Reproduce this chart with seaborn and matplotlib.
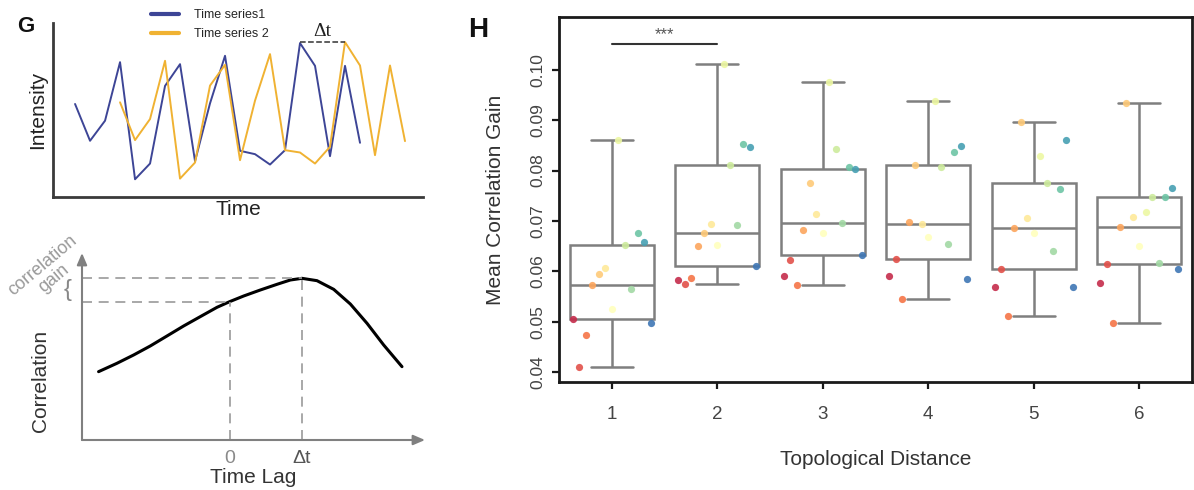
import numpy as np
import pandas as pd
import matplotlib
matplotlib.use("Agg")
import matplotlib.pyplot as plt
import seaborn as sns

# ---------------- Panel G (top): schematic time series ----------------
ts1_time = list(range(0, 20))
ts1_values = [27.8, 16.8, 22.8, 40.3, 5.3, 10.0, 33.2, 39.7, 10.7, 28.0,
              42.2, 13.8, 12.8, 9.7, 14.0, 46.0, 39.2, 12.2, 39.2, 16.2]
ts2_time = list(range(3, 23))
ts2_values = [28.3, 17.0, 23.3, 40.7, 5.5, 10.3, 33.3, 39.5, 11.0, 28.8,
              42.7, 14.0, 13.3, 10.0, 15.0, 46.3, 39.3, 12.5, 39.3, 16.7]
ts_labels = ["Time series1", "Time series 2"]

# ---------------- Panel G (bottom): cross-correlation schematic ----------------
lag_values = [-1.811, -1.558, -1.327, -1.097, -0.866, -0.636, -0.406, -0.175, 0.0,
              0.194, 0.424, 0.654, 0.839, 1.0, 1.207, 1.438, 1.668, 1.899, 2.129, 2.382]
corr_values = [2.05, 2.30, 2.55, 2.82, 3.12, 3.42, 3.70, 3.98, 4.15,
               4.32, 4.50, 4.67, 4.80, 4.85, 4.78, 4.52, 4.08, 3.50, 2.85, 2.20]
lag_ticklabels = ["0", "Δt"]

# ---------------- Panel H: mean correlation gain ----------------
distance_labels = ["1", "2", "3", "4", "5", "6"]
subject_labels = ["S%02d" % (i + 1) for i in range(13)]
gain_d1 = [0.0505, 0.0409, 0.0473, 0.0573, 0.0594, 0.0607, 0.0525, 0.0861, 0.0653, 0.0564, 0.0675, 0.0659, 0.0498]
gain_d2 = [0.0582, 0.0575, 0.0586, 0.0651, 0.0675, 0.0693, 0.0653, 0.1012, 0.0811, 0.0692, 0.0852, 0.0846, 0.0610]
gain_d3 = [0.0591, 0.0622, 0.0573, 0.0681, 0.0775, 0.0713, 0.0675, 0.0975, 0.0842, 0.0695, 0.0807, 0.0803, 0.0632]
gain_d4 = [0.0591, 0.0625, 0.0545, 0.0698, 0.0811, 0.0694, 0.0668, 0.0938, 0.0807, 0.0655, 0.0836, 0.0849, 0.0585]
gain_d5 = [0.0568, 0.0605, 0.0512, 0.0686, 0.0897, 0.0706, 0.0675, 0.0828, 0.0775, 0.0641, 0.0763, 0.0860, 0.0568]
gain_d6 = [0.0577, 0.0615, 0.0498, 0.0687, 0.0935, 0.0708, 0.0651, 0.0718, 0.0748, 0.0616, 0.0747, 0.0766, 0.0605]
y_ticks = [0.04, 0.05, 0.06, 0.07, 0.08, 0.09, 0.10]
sig_text = "***"

gains = [gain_d1, gain_d2, gain_d3, gain_d4, gain_d5, gain_d6]
df = pd.DataFrame({
    "distance": np.repeat(distance_labels, len(subject_labels)),
    "subject": np.tile(subject_labels, len(distance_labels)),
    "gain": np.concatenate(gains),
})

sns.set_style("ticks")
plt.rcParams["font.family"] = ["Liberation Sans", "DejaVu Sans"]

W, H = 1194, 490
fig = plt.figure(figsize=(W / 100, H / 100), dpi=100)


def ax_px(l, t, r, b):
    return fig.add_axes([l / W, 1 - b / H, (r - l) / W, (b - t) / H])


axG1 = ax_px(53, 23, 423, 197)
axG2 = ax_px(82, 253, 425, 440)
axH = ax_px(559, 17, 1192, 382)

# ---- G top ----
sns.lineplot(x=ts1_time, y=ts1_values, ax=axG1, color="#3d4596", lw=1.4, label=ts_labels[0])
sns.lineplot(x=ts2_time, y=ts2_values, ax=axG1, color="#f0b232", lw=1.4, label=ts_labels[1])
axG1.set_xlim(-1.47, 23.2)
axG1.set_ylim(0, 52)
axG1.set_xticks([])
axG1.set_yticks([])
for s in ["top", "right"]:
    axG1.spines[s].set_visible(False)
for s in ["left", "bottom"]:
    axG1.spines[s].set_color("#3a3a3a")
    axG1.spines[s].set_linewidth(2)
axG1.set_xlabel("Time", fontsize=15, labelpad=2, color="#222")
axG1.set_ylabel("Intensity", fontsize=15, labelpad=4, color="#222")
i1 = int(np.argmax(ts1_values))
i2 = int(np.argmax(ts2_values))
pk = ts2_values[i2]
axG1.plot([ts1_time[i1], ts2_time[i2]], [pk, pk], ls="--", color="#333", lw=1.1)
axG1.text((ts1_time[i1] + ts2_time[i2]) / 2, pk + 0.6, "Δt", family="Liberation Serif",
          fontsize=14, ha="center", va="bottom", color="#222")
leg = axG1.legend(loc="upper left", bbox_to_anchor=(145 / W, 1 - 3 / H), bbox_transform=fig.transFigure,
                  frameon=False, fontsize=9, handlelength=2.2, labelspacing=0.55, borderpad=0,
                  handletextpad=1.2)
for h in leg.get_lines():
    h.set_linewidth(3)

# ---- G bottom ----
sns.lineplot(x=lag_values, y=corr_values, ax=axG2, color="black", lw=2.2, sort=True)
axG2.set_xlim(-2.04, 2.70)
axG2.set_ylim(0, 5.61)
for s in axG2.spines.values():
    s.set_visible(False)
arrow_kw = dict(arrowstyle="-|>,head_length=0.7,head_width=0.3", color="#808080", lw=1.5,
                shrinkA=0, shrinkB=0)
axG2.annotate("", xy=(1, 0), xytext=(0, 0), xycoords="axes fraction", textcoords="axes fraction",
              arrowprops=arrow_kw)
axG2.annotate("", xy=(0, 1), xytext=(0, 0), xycoords="axes fraction", textcoords="axes fraction",
              arrowprops=arrow_kw)
i0 = lag_values.index(0.0)
ip = int(np.argmax(corr_values))
xl = axG2.get_xlim()[0]
dash_kw = dict(ls=(0, (6, 4)), color="#9a9a9a", lw=1.2)
axG2.plot([xl, lag_values[ip]], [corr_values[ip]] * 2, **dash_kw)
axG2.plot([xl, lag_values[i0]], [corr_values[i0]] * 2, **dash_kw)
axG2.plot([lag_values[i0]] * 2, [0, corr_values[i0]], **dash_kw)
axG2.plot([lag_values[ip]] * 2, [0, corr_values[ip]], **dash_kw)
axG2.set_xticks([lag_values[i0], lag_values[ip]])
axG2.set_xticklabels(lag_ticklabels)
axG2.set_yticks([])
axG2.tick_params(axis="x", length=0, labelsize=14, pad=7)
tl = axG2.get_xticklabels()
tl[0].set_color("#8a8a8a")
tl[1].set_color("#555555")
axG2.set_xlabel("Time Lag", fontsize=15, labelpad=1, color="#333")
axG2.set_ylabel("Correlation", fontsize=15, color="#333")
axG2.yaxis.set_label_coords(-0.093, 0.315)
fig.text(48 / W, 1 - 272 / H, "correlation\ngain", rotation=40, ha="center", va="center",
         multialignment="center", color="#9a9a9a", fontsize=13, linespacing=1.05)
fig.text(68 / W, 1 - 290 / H, "{", ha="center", va="center", color="#888", fontsize=17)

# ---- H ----
sns.boxplot(data=df, x="distance", y="gain", order=distance_labels, ax=axH, color="white",
            linecolor="#7f7f7f", linewidth=1.8, showfliers=False, width=0.8)
sns.stripplot(data=df, x="distance", y="gain", order=distance_labels, hue="subject",
              hue_order=subject_labels, palette="Spectral", dodge=True, jitter=False, size=5.2,
              ax=axH, legend=False, zorder=3, linewidth=0, alpha=0.9)
axH.set_xlim(-0.5, 5.5)
axH.set_ylim(0.038, 0.1105)
axH.set_yticks(y_ticks)
axH.set_yticklabels(["%.2f" % v for v in y_ticks])
for lab in axH.get_yticklabels():
    lab.set_rotation(90)
    lab.set_va("center")
for s in axH.spines.values():
    s.set_visible(True)
    s.set_color("#1a1a1a")
    s.set_linewidth(2)
axH.tick_params(direction="out", length=5, width=1.6, color="#1a1a1a", labelcolor="#444")
axH.tick_params(axis="x", labelsize=13.5, pad=12)
axH.tick_params(axis="y", labelsize=12.5, pad=5)
axH.set_xlabel("Topological Distance", fontsize=15, labelpad=20, color="#333")
axH.set_ylabel("Mean Correlation Gain", fontsize=15, labelpad=18, color="#333")
sig_y = max(gain_d1 + gain_d2) + 0.004
axH.plot([0, 1], [sig_y, sig_y], color="#333", lw=1.5)
axH.text(0.5, sig_y + 0.0003, sig_text, ha="center", va="bottom", fontsize=12, color="#555")

fig.text(17 / W, 1 - 32 / H, "G", ha="left", va="baseline", fontsize=16, weight="bold", color="#111")
fig.text(468 / W, 1 - 37 / H, "H", ha="left", va="baseline", fontsize=20, weight="bold", color="#111")

fig.savefig("out.png", dpi=100)
